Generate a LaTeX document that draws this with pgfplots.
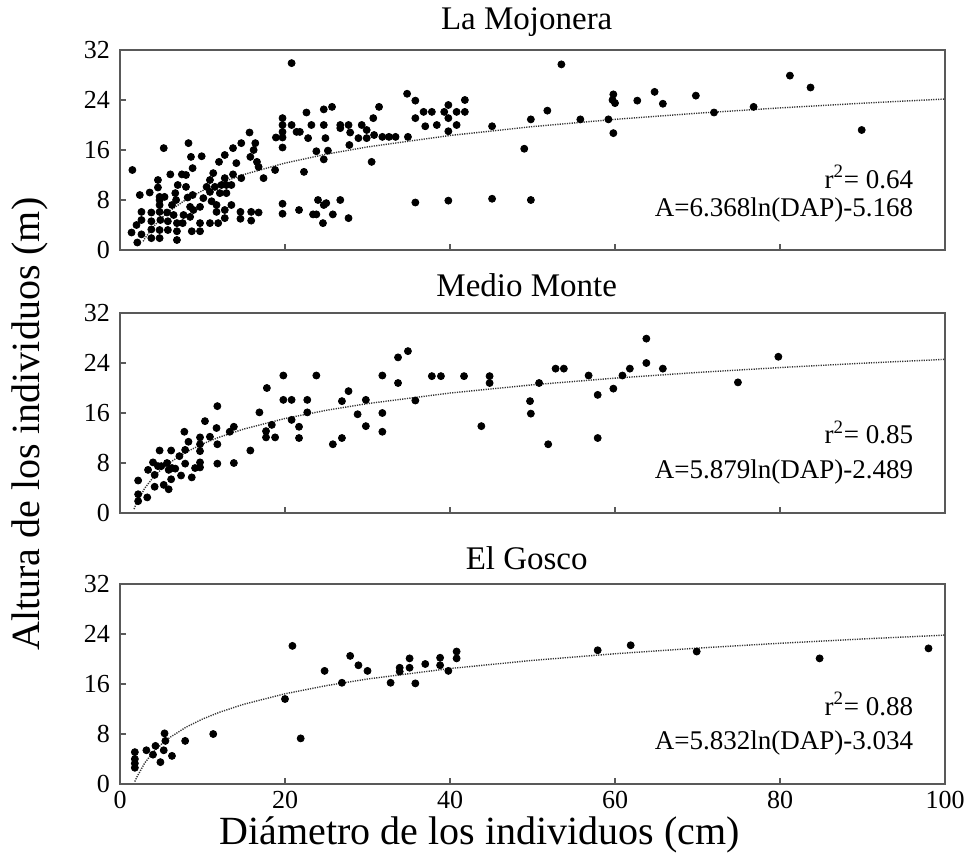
\documentclass[border=0pt]{standalone}
\usepackage{fontspec}
\setmainfont{Liberation Serif}
\usepackage{pgfplots}
\pgfplotsset{compat=1.18}

\pgfplotsset{
  panel/.style={
    scale only axis, width=412.5pt, height=100pt,
    xmin=0, xmax=100, ymin=0, ymax=32,
    xtick={0,20,...,100}, ytick={0,8,...,32},
    tick align=inside, tick pos=left,
    major tick length=3pt,
    axis line style={draw=black!65, line width=0.9pt},
    tick style={draw=black!65, line width=0.7pt},
    ticklabel style={font=\fontsize{13}{13}\selectfont},
    yticklabel style={xshift=-1.5pt},
    /pgf/number format/assume math mode=true,
    clip=false,
  },
  pts/.style={only marks, mark=*, mark size=1.75pt, black},
  fit/.style={no marks, draw=black!80, line width=0.7pt, dash pattern=on 0.6pt off 0.6pt},
}
\newcommand\eqfont{\fontsize{13.5}{15}\selectfont}
\newcommand\ttlfont{\fontsize{16.5}{18}\selectfont}
\newcommand\labfont{\fontsize{20}{22}\selectfont}

\begin{document}
\begin{tikzpicture}
\useasboundingbox (-60pt,-306.5pt) rectangle (423.5pt,125pt);

% La Mojonera
\begin{axis}[panel, xticklabels={}]
\addplot[pts] coordinates {
(1.5,12.8)(1.4,2.8)(2.1,1.2)(2.6,2.5)(2.4,8.8)(2.6,6.1)(2.6,4.8)(2.0,4.0)
(3.6,9.2)(3.8,6.0)(3.8,4.6)(3.8,3.3)(3.8,1.9)(4.6,11.2)(4.6,10.0)(4.8,8.5)
(4.8,8.0)(4.8,7.2)(4.8,6.1)(4.9,4.8)(4.8,3.2)(4.8,1.9)(5.3,16.3)(5.4,8.5)
(5.7,6.0)(5.8,4.6)(5.8,3.2)(6.1,12.1)(6.3,7.2)(6.5,5.6)(6.7,9.1)(6.8,8.0)
(6.9,4.3)(6.9,3.0)(6.9,1.6)(7.0,10.4)(7.5,12.1)(8.0,12.0)(7.7,5.6)(7.6,4.3)
(8.0,10.1)(8.2,8.4)(8.3,17.1)(8.6,14.9)(8.5,6.9)(8.5,5.3)(8.8,13.1)(8.8,8.8)
(8.9,6.4)(8.7,3.0)(9.9,15.0)(9.7,4.3)(9.7,3.0)(9.7,6.9)(10.1,8.3)(10.5,10.1)
(10.9,9.3)(10.9,11.2)(11.1,7.8)(10.9,4.3)(11.3,12.3)(11.5,10.1)(11.7,7.2)(11.7,6.1)
(11.9,4.3)(12.0,14.1)(12.1,9.1)(12.3,10.4)(12.7,15.2)(12.7,11.5)(12.9,10.4)(12.9,9.1)
(12.7,6.4)(12.7,5.1)(13.5,7.2)(13.5,10.4)(13.7,16.3)(13.7,12.1)(14.1,13.9)(14.6,6.1)
(14.6,5.0)(14.7,17.1)(14.7,11.5)(15.7,18.8)(15.8,14.9)(15.9,6.1)(15.9,4.7)(16.2,16.0)
(16.4,17.1)(16.6,14.1)(16.8,13.3)(16.8,6.0)(17.4,11.5)(18.8,12.8)(18.9,18.0)(19.7,21.1)
(19.7,20.0)(19.7,18.9)(19.7,18.0)(19.7,16.4)(19.7,7.4)(19.7,5.8)(20.8,29.9)(20.8,20.0)
(21.4,18.9)(21.8,18.9)(21.7,6.4)(22.3,12.5)(22.6,22.0)(22.8,17.9)(23.2,20.0)(23.4,5.7)
(23.8,5.7)(23.8,15.8)(24.0,8.0)(24.6,4.3)(24.7,22.5)(25.7,22.9)(24.7,20.0)(24.9,17.9)
(24.7,14.5)(24.7,7.2)(25.0,7.5)(25.2,15.9)(25.8,5.7)(26.7,20.0)(26.7,19.5)(27.7,20.0)
(27.9,18.8)(27.7,5.1)(26.7,8.0)(27.8,16.8)(28.9,17.9)(29.3,20.0)(29.9,19.2)(29.9,17.9)
(30.5,14.1)(30.7,21.1)(31.4,22.9)(30.8,18.4)(31.8,18.1)(32.6,18.1)(33.4,18.1)(34.9,18.1)
(34.8,25.0)(35.8,23.9)(35.8,21.1)(35.8,7.6)(36.8,22.1)(37.8,22.1)(37.0,19.8)(38.4,20.0)
(39.3,22.1)(39.8,23.2)(39.8,21.1)(39.8,19.0)(39.8,7.9)(40.8,22.1)(40.8,20.0)(41.8,24.0)
(41.8,22.1)(45.1,19.8)(45.1,8.2)(49.0,16.2)(49.8,20.9)(49.8,8.0)(51.8,22.3)(53.5,29.7)
(55.8,20.9)(59.2,20.9)(59.8,24.9)(59.7,24.0)(60.0,23.5)(59.8,18.7)(62.7,23.9)(64.8,25.3)
(65.8,23.4)(69.8,24.7)(72.0,22.0)(76.8,22.9)(81.2,27.9)(83.7,26.0)(89.9,19.2)
};
\addplot[fit] coordinates {
(2.8,1.389)(3,1.828)(4,3.660)(5,5.081)(6,6.242)(8,8.074)(10,9.495)(12,10.656)
(15,12.077)(20,13.909)(25,15.330)(30,16.491)(40,18.323)(50,19.744)(60,20.905)
(70,21.886)(80,22.737)(90,23.487)(100,24.158)
};
\node[font=\ttlfont] at (axis description cs:0.493,1.14) {La Mojonera};
\node[anchor=east, font=\eqfont] at (axis cs:97,11.7) {r\textsuperscript{2}= 0.64};
\node[anchor=east, font=\eqfont] at (axis cs:97,6.4) {A=6.368ln(DAP)-5.168};
\end{axis}

% Medio Monte
\begin{axis}[panel, at={(0,-131.5pt)}, xticklabels={}]
\addplot[pts] coordinates {
(2.2,5.2)(2.2,3.0)(2.2,1.9)(3.3,2.5)(3.4,6.9)(4.0,8.1)(4.2,6.1)(4.2,4.2)
(4.8,10.0)(4.6,7.5)(5.0,7.5)(5.3,4.5)(5.7,8.0)(5.9,6.9)(5.9,3.8)(6.2,10.0)
(6.3,7.2)(6.2,5.4)(6.7,7.1)(7.2,9.1)(7.4,6.0)(7.8,13.0)(7.9,10.1)(7.9,7.9)
(8.3,11.4)(8.7,5.7)(9.1,7.2)(9.7,12.1)(9.7,11.0)(9.7,9.9)(9.7,8.1)(9.7,7.3)
(10.3,14.7)(10.9,12.2)(11.7,13.6)(11.8,11.0)(11.8,7.9)(11.8,17.1)(13.3,13.0)(13.8,13.8)
(13.8,8.0)(15.8,10.0)(16.9,16.1)(17.8,20.0)(17.7,13.1)(17.7,12.1)(18.4,14.1)(18.8,12.1)
(19.8,22.0)(19.8,18.1)(20.8,18.1)(20.8,14.9)(21.7,13.8)(21.7,12.0)(22.7,18.1)(22.7,16.1)
(23.8,22.0)(25.8,11.0)(26.9,17.9)(26.9,12.0)(27.7,19.5)(28.8,15.8)(29.8,18.1)(29.8,13.9)
(31.8,22.0)(31.8,16.0)(31.8,13.0)(33.7,24.9)(33.7,20.8)(34.9,25.9)(35.8,18.0)(37.8,21.9)
(38.9,21.9)(41.7,21.9)(43.8,13.9)(44.8,21.9)(44.8,20.8)(49.7,17.9)(49.8,15.9)(50.8,20.8)
(51.9,11.0)(52.8,23.1)(53.8,23.1)(56.8,22.0)(57.9,18.9)(57.9,12.0)(59.8,19.9)(60.9,22.0)
(61.8,23.1)(63.8,27.9)(63.8,24.0)(65.8,23.1)(74.9,20.9)(79.8,25.0)
};
\addplot[fit] coordinates {
(1.7,0.630)(2,1.586)(3,3.970)(4,5.661)(5,6.973)(6,8.045)(8,9.736)(10,11.048)
(12,12.120)(15,13.432)(20,15.123)(25,16.435)(30,17.507)(40,19.198)(50,20.510)
(60,21.581)(70,22.488)(80,23.273)(90,23.965)(100,24.585)
};
\node[font=\ttlfont] at (axis description cs:0.493,1.14) {Medio Monte};
\node[anchor=east, font=\eqfont] at (axis cs:97,12.9) {r\textsuperscript{2}= 0.85};
\node[anchor=east, font=\eqfont] at (axis cs:97,6.5) {A=5.879ln(DAP)-2.489};
\node[rotate=90, font=\labfont] at (axis description cs:-0.109,0.444) {Altura de los individuos (m)};
\end{axis}

% El Gosco
\begin{axis}[panel, at={(0,-267pt)}]
\addplot[pts] coordinates {
(1.8,5.1)(1.8,4.0)(1.8,3.3)(1.8,2.6)(3.2,5.4)(4.0,4.7)(4.3,6.1)(4.9,3.5)
(5.3,5.4)(5.4,8.1)(5.5,6.9)(6.3,4.5)(7.9,6.9)(11.3,8.0)(20.0,13.6)(20.9,22.1)
(21.9,7.3)(24.8,18.1)(26.9,16.2)(27.9,20.5)(28.9,19.0)(30.0,18.1)(32.8,16.2)(33.9,18.6)
(33.9,18.0)(35.1,20.1)(35.1,18.6)(35.8,16.1)(37.0,19.2)(38.8,20.2)(38.8,19.0)(39.8,18.1)
(40.8,21.2)(40.8,20.1)(57.9,21.4)(61.9,22.2)(69.9,21.2)(84.8,20.1)(98.0,21.7)
};
\addplot[fit] coordinates {
(1.8,0.394)(2,1.008)(3,3.373)(4,5.051)(5,6.352)(6,7.416)(8,9.093)(10,10.395)
(12,11.458)(15,12.760)(20,14.437)(25,15.739)(30,16.802)(40,18.480)(50,19.781)
(60,20.844)(70,21.743)(80,22.522)(90,23.209)(100,23.824)
};
\node[font=\ttlfont] at (axis description cs:0.493,1.13) {El Gosco};
\node[anchor=east, font=\eqfont] at (axis cs:97,12.8) {r\textsuperscript{2}= 0.88};
\node[anchor=east, font=\eqfont] at (axis cs:97,6.6) {A=5.832ln(DAP)-3.034};
\node[font=\labfont] at (axis description cs:0.436,-0.255) {Diámetro de los individuos (cm)};
\end{axis}
\end{tikzpicture}
\end{document}
